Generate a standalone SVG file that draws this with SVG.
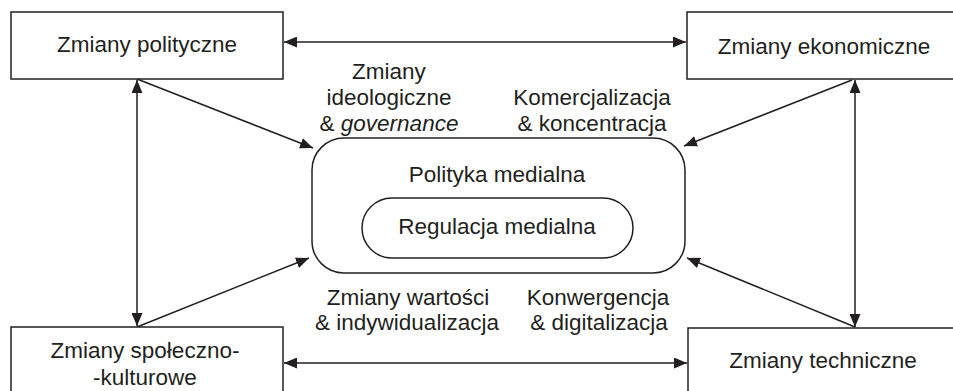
<svg xmlns="http://www.w3.org/2000/svg" width="953" height="391" viewBox="0 0 953 391">
<style>
.box{fill:#fff;stroke:#231f20;stroke-width:1.5}
.t{font-family:"Liberation Sans",Arial,sans-serif;font-size:22.5px;fill:#231f20;text-anchor:middle}
.c{stroke:#231f20;stroke-width:1.5;fill:none}
</style>
<defs>
<marker id="ah" viewBox="0 0 13 11" refX="13" refY="5.5" markerWidth="13" markerHeight="11" markerUnits="userSpaceOnUse" orient="auto-start-reverse">
<path d="M0,0 L13,5.5 L0,11 Z" fill="#231f20"/>
</marker>
</defs>
<rect width="953" height="391" fill="#fff"/>
<g id="connectors">
<line class="c" x1="284" y1="42" x2="686" y2="42" marker-start="url(#ah)" marker-end="url(#ah)"/>
<line class="c" x1="284" y1="363" x2="687" y2="363" marker-start="url(#ah)" marker-end="url(#ah)"/>
<line class="c" x1="137" y1="80" x2="137" y2="326" marker-start="url(#ah)" marker-end="url(#ah)"/>
<line class="c" x1="855" y1="80" x2="855" y2="327" marker-start="url(#ah)" marker-end="url(#ah)"/>
<line class="c" x1="137" y1="79" x2="313" y2="148" marker-end="url(#ah)"/>
<line class="c" x1="137" y1="327" x2="309" y2="258" marker-end="url(#ah)"/>
<line class="c" x1="852" y1="80" x2="684" y2="146" marker-end="url(#ah)"/>
<line class="c" x1="855" y1="327" x2="687" y2="258" marker-end="url(#ah)"/>
</g>
<g id="zmiany-polityczne">
<rect class="box" x="11" y="12" width="272" height="67"/>
<text class="t" x="147" y="52">Zmiany polityczne</text>
</g>
<g id="zmiany-ekonomiczne">
<rect class="box" x="687" y="12" width="280" height="67"/>
<text class="t" x="824" y="54">Zmiany ekonomiczne</text>
</g>
<g id="zmiany-spoleczno-kulturowe">
<rect class="box" x="11" y="327" width="272" height="80"/>
<text class="t" x="145" y="358">Zmiany społeczno-</text>
<text class="t" x="145" y="385">-kulturowe</text>
</g>
<g id="zmiany-techniczne">
<rect class="box" x="688" y="328" width="280" height="80"/>
<text class="t" x="823" y="368">Zmiany techniczne</text>
</g>
<g id="polityka-medialna">
<rect class="box" x="312" y="138" width="373" height="135" rx="32" ry="32"/>
<text class="t" x="497" y="182">Polityka medialna</text>
</g>
<g id="regulacja-medialna">
<rect class="box" x="362" y="198" width="271" height="60" rx="30" ry="30"/>
<text class="t" x="497" y="234">Regulacja medialna</text>
</g>
<g id="labels">
<text class="t" x="389" y="79">Zmiany</text>
<text class="t" x="389" y="105">ideologiczne</text>
<text class="t" x="389" y="131">&amp; <tspan font-style="italic">governance</tspan></text>
<text class="t" x="592" y="105">Komercjalizacja</text>
<text class="t" x="592" y="131">&amp; koncentracja</text>
<text class="t" x="408" y="305">Zmiany wartości</text>
<text class="t" x="407" y="330">&amp; indywidualizacja</text>
<text class="t" x="598" y="305">Konwergencja</text>
<text class="t" x="599" y="330">&amp; digitalizacja</text>
</g>
</svg>
